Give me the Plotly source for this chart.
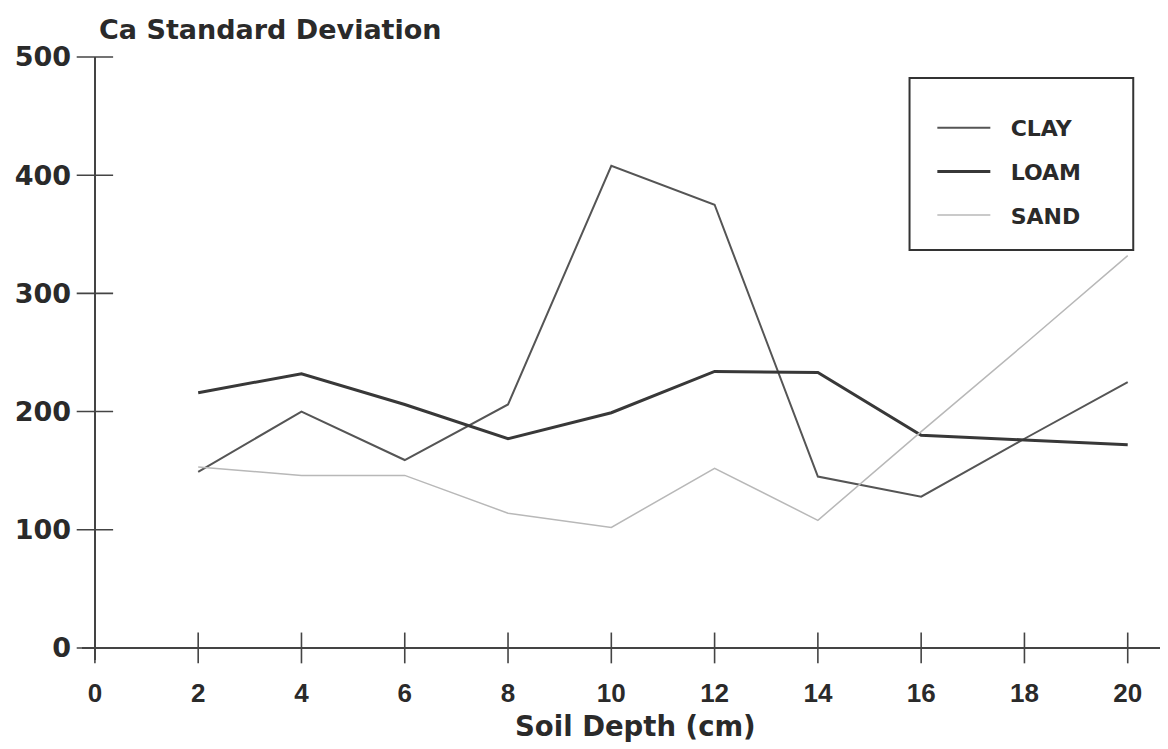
import plotly.graph_objects as go

depth = [2, 4, 6, 8, 10, 12, 14, 16, 18, 20]
clay = [149, 200, 159, 206, 408, 375, 145, 128, 177, 225]
loam = [216, 232, 206, 177, 199, 234, 233, 180, 176, 172]
sand = [153, 146, 146, 114, 102, 152, 108, 183, 257, 332]

x_ticks = [0, 2, 4, 6, 8, 10, 12, 14, 16, 18, 20]
y_ticks = [0, 100, 200, 300, 400, 500]
series_names = ["\u00a0\u00a0CLAY", "\u00a0\u00a0LOAM", "\u00a0\u00a0SAND"]

WIDE = "DejaVu Sans, Verdana, sans-serif"
NARROW = "Liberation Sans, Arial, Helvetica, sans-serif"
TXT = "#2a2a2a"

fig = go.Figure()

fig.add_trace(go.Scatter(x=depth, y=clay, mode="lines", name=series_names[0],
                         line=dict(color="#555555", width=2), legendgroup="a"))
fig.add_trace(go.Scatter(x=depth, y=loam, mode="lines", name=series_names[1],
                         line=dict(color="#383838", width=3), legendgroup="b"))
fig.add_trace(go.Scatter(x=depth, y=sand, mode="lines", name=series_names[2],
                         line=dict(color="#b8b8b8", width=1.5), legendgroup="c"))

# crossing tick marks on the axes
fig.add_trace(go.Scatter(x=x_ticks, y=[0] * len(x_ticks), mode="markers",
                         marker=dict(symbol="line-ns-open", size=22, color="#444",
                                     line=dict(color="#444", width=1.6)),
                         showlegend=False, hoverinfo="skip", cliponaxis=False))
fig.add_trace(go.Scatter(x=[0] * len(y_ticks), y=y_ticks, mode="markers",
                         marker=dict(symbol="line-ew-open", size=26, color="#444",
                                     line=dict(color="#444", width=1.6)),
                         showlegend=False, hoverinfo="skip", cliponaxis=False))

fig.update_layout(
    width=1160, height=741,
    margin=dict(l=74, r=0, t=49, b=89),
    paper_bgcolor="white", plot_bgcolor="white",
    font=dict(family=WIDE, size=20, color=TXT),
    xaxis=dict(range=[-0.25, 20.78], tickvals=x_ticks, ticks="",
               showgrid=False, showline=False, zeroline=True,
               zerolinecolor="#444", zerolinewidth=1.8, automargin=False,
               ticklabelstandoff=15,
               tickfont=dict(family=NARROW, size=26, color=TXT, weight="bold")),
    yaxis=dict(range=[-10.2, 500], tickvals=y_ticks, ticks="",
               showgrid=False, showline=False, zeroline=True,
               zerolinecolor="#444", zerolinewidth=1.8, automargin=False,
               ticklabelstandoff=10,
               tickfont=dict(family=WIDE, size=27, color=TXT, weight="bold")),
    showlegend=True,
    legend=dict(x=0.783, y=0.917, xanchor="left", yanchor="top",
                bgcolor="rgba(0,0,0,0)", borderwidth=0,
                font=dict(family=WIDE, size=22, color=TXT, weight="bold"),
                tracegroupgap=12, traceorder="grouped", itemwidth=53),
    annotations=[
        dict(text="Ca Standard Deviation", xref="paper", yref="paper",
             x=0.0138, y=1.045, xanchor="left", yanchor="middle",
             showarrow=False,
             font=dict(family=WIDE, size=27, color=TXT, weight="bold")),
        dict(text="Soil Depth (cm)", xref="paper", yref="paper",
             x=0.510, y=-0.109, xanchor="center", yanchor="middle",
             showarrow=False,
             font=dict(family=WIDE, size=27.5, color=TXT, weight="bold")),
    ],
    shapes=[dict(type="rect", xref="paper", yref="paper",
                 x0=0.762, x1=0.968, y0=0.680, y1=0.965,
                 line=dict(color="#333", width=2), fillcolor="rgba(0,0,0,0)")],
)

fig.write_html("out.html")
